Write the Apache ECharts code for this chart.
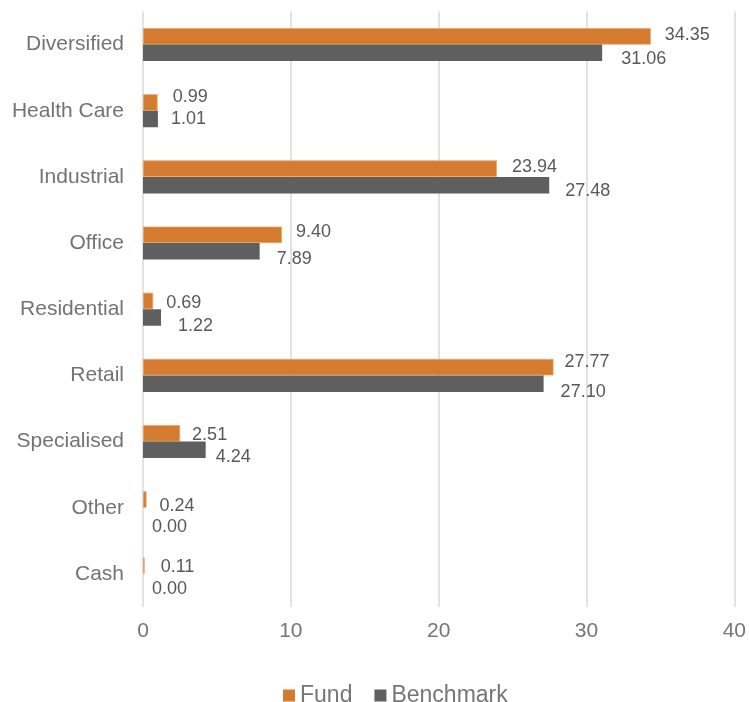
<!DOCTYPE html>
<html>
<head>
<meta charset="utf-8">
<script src="https://cdn.jsdelivr.net/npm/echarts@6/dist/echarts.min.js"></script>
<style>
html,body{margin:0;padding:0;background:#fff;}
#chart{width:749px;height:702px;}
</style>
</head>
<body>
<div id="chart"></div>
<script>
// ---- data ----
const categories = ['Diversified', 'Health Care', 'Industrial', 'Office', 'Residential', 'Retail', 'Specialised', 'Other', 'Cash'];
const fundValues = [34.35, 0.99, 23.94, 9.40, 0.69, 27.77, 2.51, 0.24, 0.11];
const benchmarkValues = [31.06, 1.01, 27.48, 7.89, 1.22, 27.10, 4.24, 0.00, 0.00];
const xTicks = [0, 10, 20, 30, 40];
const seriesNames = ['Fund', 'Benchmark'];

// label nudges (manually placed labels in the source chart), [dx, dy] in px
const fundLabelNudge = [[14,-1],[15,-5],[15,-1.5],[14,-3],[13,2],[11,-5],[12,1.5],[13,7],[16,1]];
const benchLabelNudge = [[19,6],[13,0.5],[16,6],[17,8],[17,9],[17,8.5],[10,7],[9,11],[9,7]];

const FONT = "'Liberation Sans', Arial, sans-serif";
const fundColor = '#D47B2F';
const benchColor = '#5F5F5F';

function makeData(vals, nudges) {
  return vals.map((v, i) => ({
    value: v,
    label: { offset: nudges[i] }
  }));
}

const chart = echarts.init(document.getElementById('chart'), null, { renderer: 'canvas' });
chart.setOption({
  animation: false,
  backgroundColor: '#ffffff',
  textStyle: { fontFamily: FONT },
  grid: { left: 143, right: 8, top: 11.5, bottom: 95, containLabel: false },
  legend: {
    data: seriesNames,
    left: 278,
    top: 679,
    itemWidth: 12,
    itemHeight: 12,
    itemGap: 22,
    icon: 'rect',
    itemStyle: { borderWidth: 0 },
    textStyle: { fontFamily: FONT, fontSize: 23, color: '#767676', padding: [0, 0, 0, 0] }
  },
  xAxis: {
    type: 'value',
    min: xTicks[0],
    max: xTicks[xTicks.length - 1],
    interval: xTicks[1] - xTicks[0],
    axisLine: { show: false },
    axisTick: { show: false },
    splitLine: { show: true, lineStyle: { color: '#D9D9D9', width: 1.5 } },
    axisLabel: { fontFamily: FONT, fontSize: 21, color: '#767676', margin: 14 }
  },
  yAxis: {
    type: 'category',
    data: categories,
    inverse: true,
    axisLine: { show: false },
    axisTick: { show: false },
    splitLine: { show: false },
    axisLabel: { fontFamily: FONT, fontSize: 21, color: '#737373', margin: 19 }
  },
  series: [
    {
      name: seriesNames[0],
      type: 'bar',
      data: makeData(fundValues, fundLabelNudge),
      barWidth: 16.5,
      barGap: '0%',
      itemStyle: { color: fundColor, borderColor: '#E9A66A', borderWidth: 0.8 },
      label: {
        show: true,
        position: 'right',
        distance: 0,
        fontFamily: FONT,
        fontSize: 18,
        color: '#595959',
        formatter: p => p.value.toFixed(2)
      }
    },
    {
      name: seriesNames[1],
      type: 'bar',
      data: makeData(benchmarkValues, benchLabelNudge),
      barWidth: 16.5,
      barGap: '0%',
      itemStyle: { color: benchColor },
      label: {
        show: true,
        position: 'right',
        distance: 0,
        fontFamily: FONT,
        fontSize: 18,
        color: '#595959',
        formatter: p => p.value.toFixed(2)
      }
    }
  ]
});
</script>
</body>
</html>
